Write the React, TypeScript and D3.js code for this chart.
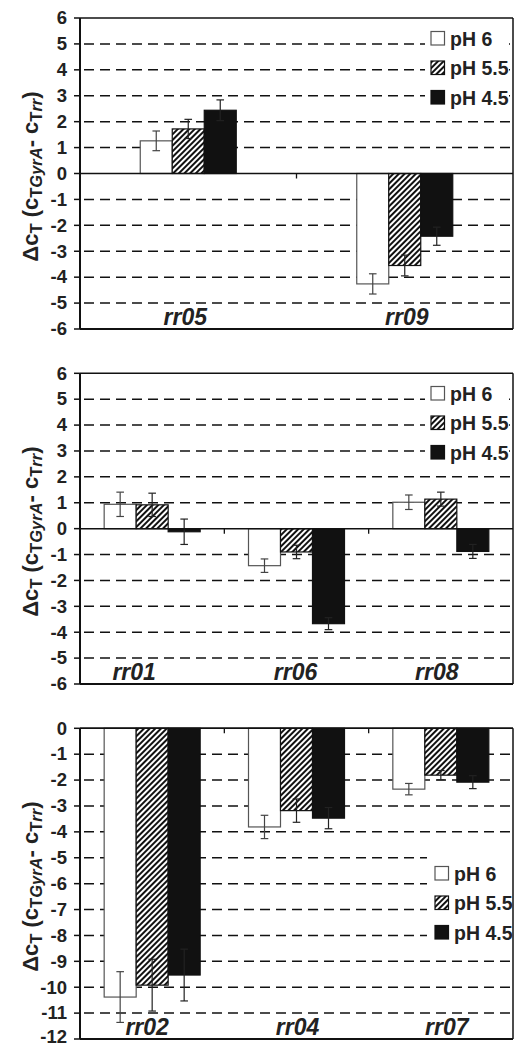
import React from "react";
import * as d3 from "d3";

// ---------- data ----------
const seriesNames = ["pH 6", "pH 5.5", "pH 4.5"];

const catsA = ["rr05", "rr09"];
const a_pH6 = [1.26, -4.26];
const a_pH55 = [1.72, -3.55];
const a_pH45 = [2.44, -2.42];
const a_err6 = [0.38, 0.39];
const a_err55 = [0.37, 0.4];
const a_err45 = [0.4, 0.35];

const catsB = ["rr01", "rr06", "rr08"];
const b_pH6 = [0.94, -1.43, 1.02];
const b_pH55 = [0.92, -0.9, 1.14];
const b_pH45 = [-0.12, -3.67, -0.88];
const b_err6 = [0.47, 0.26, 0.28];
const b_err55 = [0.45, 0.26, 0.27];
const b_err45 = [0.49, 0.23, 0.27];

const catsC = ["rr02", "rr04", "rr07"];
const c_pH6 = [-10.38, -3.81, -2.35];
const c_pH55 = [-9.92, -3.18, -1.81];
const c_pH45 = [-9.53, -3.47, -2.08];
const c_err6 = [0.98, 0.45, 0.22];
const c_err55 = [1.0, 0.45, 0.18];
const c_err45 = [1.0, 0.41, 0.25];

const ticksA = d3.range(-6, 7, 1);
const ticksC = d3.range(-12, 1, 1);

// ---------- layout ----------
const FONT = "'Liberation Sans', Arial, Helvetica, sans-serif";
const X0 = 80;
const X1 = 513;
const BAR_W = 32;

type PanelCfg = {
  cats: string[];
  values: number[][];
  errs: number[][];
  domain: [number, number];
  ticks: number[];
  yTop: number;
  yBottom: number;
  labelShift: number[];
  legend: { x: number; y: number; boxX0: number; boxX1: number; boxY0: number; boxY1: number };
};

const panels: PanelCfg[] = [
  {
    cats: catsA,
    values: [a_pH6, a_pH55, a_pH45],
    errs: [a_err6, a_err55, a_err45],
    domain: [-6, 6],
    ticks: ticksA,
    yTop: 18,
    yBottom: 329,
    labelShift: [-3, 2],
    legend: { x: 431, y: 38.5, boxX0: 425, boxX1: 509, boxY0: 28, boxY1: 110 },
  },
  {
    cats: catsB,
    values: [b_pH6, b_pH55, b_pH45],
    errs: [b_err6, b_err55, b_err45],
    domain: [-6, 6],
    ticks: ticksA,
    yTop: 373.3,
    yBottom: 684,
    labelShift: [-18, -1, -4],
    legend: { x: 431, y: 393.5, boxX0: 425, boxX1: 509, boxY0: 383, boxY1: 465 },
  },
  {
    cats: catsC,
    values: [c_pH6, c_pH55, c_pH45],
    errs: [c_err6, c_err55, c_err45],
    domain: [-12, 0],
    ticks: ticksC,
    yTop: 728.3,
    yBottom: 1039,
    labelShift: [-5, 1, 6],
    legend: { x: 435, y: 873.5, boxX0: 427, boxX1: 515, boxY0: 848, boxY1: 948 },
  },
];

const fills = ["#ffffff", "url(#hatch)", "#111111"];
const strokes = ["#555555", "#111111", "#111111"];
const errColors = ["#444444", "#222222", "#222222"];

function YLabel({ cy }: { cy: number }) {
  return (
    <text
      transform={`translate(38,${cy}) rotate(-90)`}
      textAnchor="middle"
      fontFamily={FONT}
      fontWeight="bold"
      fontSize={22}
      fill="#222"
    >
      <tspan>Δc</tspan>
      <tspan fontSize={16.5} dy={4}>T</tspan>
      <tspan dy={-4}> (c</tspan>
      <tspan fontSize={16.5} dy={4}>T</tspan>
      <tspan fontSize={16.5} fontStyle="italic">GyrA</tspan>
      <tspan dy={-4}>- c</tspan>
      <tspan fontSize={16.5} dy={4}>T</tspan>
      <tspan fontSize={16.5} fontStyle="italic">rr</tspan>
      <tspan dy={-4}>)</tspan>
    </text>
  );
}

function Panel({ cfg }: { cfg: PanelCfg }) {
  const y = d3.scaleLinear().domain(cfg.domain).range([cfg.yBottom, cfg.yTop]);
  const x = d3.scaleBand<string>().domain(cfg.cats).range([X0, X1]).padding(0);
  const inner = d3
    .scaleBand<string>()
    .domain(seriesNames)
    .range([-1.5 * BAR_W, 1.5 * BAR_W])
    .padding(0);
  const y0 = y(0);
  const dashTicks = cfg.ticks.filter((t) => t !== 0 && t !== cfg.domain[0] && t !== cfg.domain[1]);
  const boundaries = cfg.cats.slice(1).map((c) => x(c) as number);
  const lg = cfg.legend;

  return (
    <g>
      {dashTicks.map((t) => (
        <line
          key={"g" + t}
          x1={X0}
          x2={X1}
          y1={y(t)}
          y2={y(t)}
          stroke="#111"
          strokeWidth={1.5}
          strokeDasharray="10,6"
          strokeDashoffset={-4}
        />
      ))}
      <rect x={lg.boxX0} y={lg.boxY0} width={lg.boxX1 - lg.boxX0} height={lg.boxY1 - lg.boxY0} fill="#fff" />
      {cfg.cats.map((c, ci) =>
        seriesNames.map((s, si) => {
          const v = cfg.values[si][ci];
          const cx = (x(c) as number) + x.bandwidth() / 2;
          const bx = cx + (inner(s) as number);
          return (
            <rect
              key={c + s}
              x={bx}
              y={Math.min(y(v), y0)}
              width={inner.bandwidth()}
              height={Math.abs(y(v) - y0)}
              fill={fills[si]}
              stroke={strokes[si]}
              strokeWidth={1.2}
            />
          );
        })
      )}
      {cfg.cats.map((c, ci) =>
        seriesNames.map((s, si) => {
          const v = cfg.values[si][ci];
          const e = cfg.errs[si][ci];
          const cx = (x(c) as number) + x.bandwidth() / 2;
          const mx = cx + (inner(s) as number) + inner.bandwidth() / 2;
          const ya = y(v + e);
          const yb = y(v - e);
          return (
            <g key={"e" + c + s} stroke={errColors[si]} strokeWidth={1.2}>
              <line x1={mx} x2={mx} y1={ya} y2={yb} />
              <line x1={mx - 3.8} x2={mx + 3.8} y1={ya} y2={ya} />
              <line x1={mx - 3.8} x2={mx + 3.8} y1={yb} y2={yb} />
            </g>
          );
        })
      )}
      <line x1={X0} x2={X1} y1={y0} y2={y0} stroke="#111" strokeWidth={1.5} />
      {boundaries.map((bx, i) => (
        <line key={"b" + i} x1={bx} x2={bx} y1={y0} y2={y0 + 5} stroke="#111" strokeWidth={1.3} />
      ))}
      <line x1={X0} x2={X1} y1={cfg.yTop} y2={cfg.yTop} stroke="#111" strokeWidth={1.5} />
      <line x1={X0} x2={X1} y1={cfg.yBottom} y2={cfg.yBottom} stroke="#111" strokeWidth={2} />
      <line x1={X1} x2={X1} y1={cfg.yTop} y2={cfg.yBottom} stroke="#111" strokeWidth={1.5} />
      <line x1={X0} x2={X0} y1={cfg.yTop} y2={cfg.yBottom} stroke="#111" strokeWidth={2} />
      {cfg.ticks.map((t) => (
        <g key={"t" + t}>
          <line x1={X0 - 6} x2={X0} y1={y(t)} y2={y(t)} stroke="#111" strokeWidth={1.5} />
          <text
            x={67}
            y={Math.min(y(t), 1037)}
            dy="0.34em"
            textAnchor="end"
            fontFamily={FONT}
            fontWeight="bold"
            fontSize={18.5}
            fill="#222"
          >
            {t}
          </text>
        </g>
      ))}
      {cfg.cats.map((c, ci) => (
        <text
          key={"c" + c}
          x={(x(c) as number) + x.bandwidth() / 2 + cfg.labelShift[ci]}
          y={cfg.yBottom - 4}
          textAnchor="middle"
          fontFamily={FONT}
          fontWeight="bold"
          fontStyle="italic"
          fontSize={23}
          fill="#222"
        >
          {c}
        </text>
      ))}
      {seriesNames.map((s, si) => {
        const ly = lg.y + si * 29.5;
        return (
          <g key={"l" + s}>
            <rect
              x={lg.x}
              y={ly - 7}
              width={13.5}
              height={13.5}
              fill={fills[si]}
              stroke={strokes[si]}
              strokeWidth={1.2}
            />
            <text
              x={lg.x + 19}
              y={ly}
              dy="0.36em"
              fontFamily={FONT}
              fontWeight="bold"
              fontSize={19.5}
              fill="#222"
            >
              {s}
            </text>
          </g>
        );
      })}
      <YLabel cy={(cfg.yTop + cfg.yBottom) / 2 + 3} />
    </g>
  );
}

export default function App() {
  return (
    <svg
      width={515}
      height={1046}
      style={{ position: "absolute", left: 0, top: 0, background: "#fff" }}
    >
      <defs>
        <pattern
          id="hatch"
          patternUnits="userSpaceOnUse"
          width={4}
          height={4}
          patternTransform="rotate(45)"
        >
          <rect x={0} y={0} width={4} height={4} fill="#fff" />
          <rect x={0} y={0} width={2} height={4} fill="#111" />
        </pattern>
      </defs>
      <rect x={0} y={0} width={515} height={1046} fill="#fff" />
      {panels.map((p, i) => (
        <Panel key={i} cfg={p} />
      ))}
    </svg>
  );
}
